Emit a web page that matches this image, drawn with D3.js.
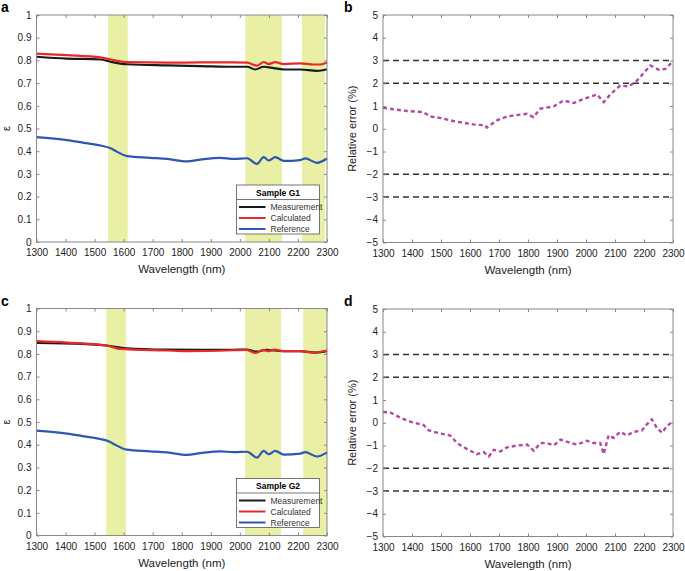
<!DOCTYPE html>
<html>
<head>
<meta charset="utf-8">
<script src="https://cdn.jsdelivr.net/npm/d3@7/dist/d3.min.js"></script>
<style>
  body { margin: 0; background: #fff; }
  svg { font-family: "Liberation Sans", Arial, sans-serif; }
</style>
</head>
<body>
<script>
// Data
const wavelengthTicks = [1300, 1400, 1500, 1600, 1700, 1800, 1900, 2000, 2100, 2200, 2300];
const epsTicks = [0, 0.1, 0.2, 0.3, 0.4, 0.5, 0.6, 0.7, 0.8, 0.9, 1];
const errTicks = [-5, -4, -3, -2, -1, 0, 1, 2, 3, 4, 5];
const errLimits = [3, 2, -2, -3];
const seriesNames = ["Measurement", "Calculated", "Reference"];
const seriesColors = ["#1a1a1a", "#e8282b", "#2f56b0"];

const bandsG1 = [[1546, 1614], [2019, 2145], [2214, 2293]];
const bandsG2 = [[1540, 1608], [2018, 2142], [2218, 2300]];

const measG1 = [[1300, 0.816], [1405, 0.808], [1520, 0.804], [1555, 0.794], [1612, 0.783], [1750, 0.778], [1864, 0.775], [1979, 0.772], [2025, 0.772], [2053, 0.760], [2082, 0.772], [2117, 0.766], [2151, 0.760], [2208, 0.760], [2266, 0.754], [2300, 0.761]];
const calcG1 = [[1300, 0.830], [1405, 0.823], [1520, 0.813], [1555, 0.804], [1612, 0.792], [1750, 0.790], [1864, 0.791], [1979, 0.791], [2025, 0.790], [2059, 0.777], [2082, 0.793], [2099, 0.784], [2122, 0.792], [2151, 0.784], [2208, 0.787], [2254, 0.782], [2277, 0.782], [2300, 0.791]];
const refG1 = [[1300, 0.462], [1405, 0.449], [1463, 0.437], [1520, 0.425], [1555, 0.413], [1578, 0.397], [1612, 0.378], [1692, 0.371], [1750, 0.366], [1818, 0.355], [1864, 0.363], [1933, 0.371], [1979, 0.366], [2025, 0.369], [2059, 0.344], [2082, 0.374], [2099, 0.359], [2122, 0.374], [2151, 0.357], [2208, 0.361], [2225, 0.368], [2266, 0.349], [2300, 0.368]];

const measG2 = [[1300, 0.849], [1460, 0.844], [1541, 0.837], [1610, 0.825], [1747, 0.819], [1862, 0.818], [1977, 0.818], [2022, 0.819], [2057, 0.810], [2091, 0.818], [2149, 0.812], [2206, 0.812], [2263, 0.806], [2300, 0.812]];
const calcG2 = [[1300, 0.856], [1405, 0.850], [1541, 0.837], [1587, 0.822], [1747, 0.815], [1816, 0.812], [1977, 0.816], [2022, 0.818], [2055, 0.804], [2080, 0.818], [2097, 0.812], [2120, 0.819], [2149, 0.812], [2206, 0.812], [2252, 0.806], [2300, 0.815]];
const refG2 = [[1300, 0.462], [1405, 0.449], [1463, 0.437], [1520, 0.425], [1550, 0.414], [1575, 0.397], [1610, 0.378], [1692, 0.371], [1750, 0.366], [1818, 0.355], [1864, 0.363], [1933, 0.371], [1979, 0.367], [2025, 0.369], [2059, 0.343], [2082, 0.373], [2099, 0.358], [2122, 0.373], [2151, 0.356], [2208, 0.361], [2225, 0.367], [2266, 0.348], [2300, 0.366]];

const errG1 = [[1300, 0.92], [1340, 0.85], [1383, 0.78], [1439, 0.73], [1463, 0.54], [1500, 0.47], [1542, 0.34], [1611, 0.19], [1652, 0.15], [1658, 0.05], [1693, 0.37], [1727, 0.54], [1796, 0.66], [1819, 0.51], [1842, 0.88], [1888, 0.98], [1923, 1.24], [1957, 1.13], [2003, 1.36], [2038, 1.51], [2061, 1.17], [2084, 1.51], [2118, 1.90], [2147, 1.86], [2176, 2.12], [2222, 2.78], [2251, 2.59], [2274, 2.63], [2300, 2.97]];
const errG2 = [[1300, 0.47], [1325, 0.45], [1360, 0.22], [1394, 0.05], [1417, -0.03], [1440, -0.10], [1457, -0.33], [1497, -0.47], [1532, -0.56], [1555, -0.89], [1590, -1.16], [1624, -1.38], [1647, -1.29], [1665, -1.48], [1682, -1.19], [1705, -1.26], [1728, -1.08], [1762, -1.00], [1797, -0.96], [1820, -1.23], [1843, -0.89], [1866, -0.90], [1889, -1.00], [1912, -0.74], [1946, -0.89], [1969, -0.96], [2003, -0.79], [2026, -0.89], [2049, -0.89], [2061, -1.38], [2078, -0.55], [2095, -0.67], [2118, -0.40], [2141, -0.56], [2164, -0.40], [2193, -0.34], [2210, -0.07], [2227, 0.15], [2244, -0.22], [2262, -0.44], [2279, -0.15], [2300, 0.07]];

const W = 685, H = 571;
const svg = d3.select("body").append("svg")
    .attr("width", W)
    .attr("height", H);

const fmtMinus = d => d < 0 ? "\u2212" + Math.abs(d) : String(d);

// frame + ticks on all four sides, MATLAB style
function frame(g, x, y, yTicks, yFmt) {
    const tick = 3;
    g.append("g")
        .attr("transform", `translate(0,${y.range()[0]})`)
        .call(d3.axisBottom(x).tickValues(wavelengthTicks).tickSize(-tick).tickPadding(7).tickFormat(d3.format("d")))
        .call(a => a.select(".domain").remove());
    g.append("g")
        .attr("transform", `translate(0,${y.range()[1]})`)
        .call(d3.axisTop(x).tickValues(wavelengthTicks).tickSize(-tick).tickFormat(""))
        .call(a => a.select(".domain").remove());
    g.append("g")
        .attr("transform", `translate(${x.range()[0]},0)`)
        .call(d3.axisLeft(y).tickValues(yTicks).tickSize(-tick).tickPadding(5).tickFormat(yFmt))
        .call(a => a.select(".domain").remove());
    g.append("g")
        .attr("transform", `translate(${x.range()[1]},0)`)
        .call(d3.axisRight(y).tickValues(yTicks).tickSize(-tick).tickFormat(""))
        .call(a => a.select(".domain").remove());
    g.selectAll(".tick line").attr("stroke", "#888");
    g.selectAll(".tick text").attr("font-size", 10).attr("fill", "#222")
        .attr("font-family", "'Liberation Sans', Arial, sans-serif");
    g.append("rect")
        .attr("x", x.range()[0]).attr("y", y.range()[1])
        .attr("width", x.range()[1] - x.range()[0])
        .attr("height", y.range()[0] - y.range()[1])
        .attr("fill", "none").attr("stroke", "#888").attr("stroke-width", 1);
    g.append("text")
        .attr("x", (x.range()[0] + x.range()[1]) / 2)
        .attr("y", y.range()[0] + 31)
        .attr("text-anchor", "middle")
        .attr("font-size", 11.5).attr("fill", "#222")
        .text("Wavelength (nm)");
}

function epsPanel(top, letter, bands, series, sample) {
    const g = svg.append("g");
    const x = d3.scaleLinear().domain([1300, 2300]).range([36.5, 327]);
    const y = d3.scaleLinear().domain([0, 1]).range([top + 227, top]);

    g.selectAll(".band").data(bands).join("rect")
        .attr("x", d => x(d[0]))
        .attr("width", d => x(d[1]) - x(d[0]))
        .attr("y", y(1)).attr("height", y(0) - y(1))
        .attr("fill", "#e9f0a6");

    const line = d3.line().x(d => x(d[0])).y(d => y(d[1])).curve(d3.curveMonotoneX);
    [2, 0, 1].forEach(i => {
        g.append("path").datum(series[i])
            .attr("d", line)
            .attr("fill", "none")
            .attr("stroke", seriesColors[i])
            .attr("stroke-width", 2.2);
    });

    frame(g, x, y, epsTicks, d => d);

    g.append("text")
        .attr("transform", `translate(10,${(y(0) + y(1)) / 2}) rotate(-90)`)
        .attr("text-anchor", "middle")
        .attr("font-size", 11).attr("fill", "#222")
        .text("\u03b5");

    g.append("text").attr("x", 1).attr("y", top - 3)
        .attr("font-size", 14).attr("font-weight", "bold").text(letter);

    // legend
    const lx = 236.5, ly = y(0) - 57, lw = 83, lh = 49;
    const leg = g.append("g").attr("transform", `translate(${lx},${ly})`);
    leg.append("rect").attr("width", lw).attr("height", lh)
        .attr("fill", "#fff").attr("stroke", "#555").attr("stroke-width", 0.8);
    leg.append("text").attr("x", lw / 2).attr("y", 10.5)
        .attr("text-anchor", "middle").attr("font-size", 8.5).attr("font-weight", "bold")
        .text(sample);
    leg.append("line").attr("x1", 0).attr("x2", lw).attr("y1", 14.5).attr("y2", 14.5)
        .attr("stroke", "#555").attr("stroke-width", 0.8);
    seriesNames.forEach((name, i) => {
        const yy = 22 + i * 11;
        leg.append("line").attr("x1", 2.5).attr("x2", 29).attr("y1", yy).attr("y2", yy)
            .attr("stroke", seriesColors[i]).attr("stroke-width", 2);
        leg.append("text").attr("x", 34).attr("y", yy + 3)
            .attr("font-size", 8.5).attr("fill", "#333").text(name);
    });
}

function errPanel(top, letter, err) {
    const g = svg.append("g");
    const x = d3.scaleLinear().domain([1300, 2300]).range([383, 673]);
    const y = d3.scaleLinear().domain([-5, 5]).range([top + 227.5, top]);

    g.selectAll(".lim").data(errLimits).join("line")
        .attr("x1", x(1300)).attr("x2", x(2300))
        .attr("y1", d => y(d)).attr("y2", d => y(d))
        .attr("stroke", "#333").attr("stroke-width", 1.4)
        .attr("stroke-dasharray", "6,4");

    g.append("path").datum(err)
        .attr("d", d3.line().x(d => x(d[0])).y(d => y(d[1])))
        .attr("fill", "none")
        .attr("stroke", "#b448a6")
        .attr("stroke-width", 2.4)
        .attr("stroke-dasharray", "4,3");

    frame(g, x, y, errTicks, fmtMinus);

    g.append("text")
        .attr("transform", `translate(356,${(y(-5) + y(5)) / 2}) rotate(-90)`)
        .attr("text-anchor", "middle")
        .attr("font-size", 11).attr("fill", "#222")
        .text("Relative error (%)");

    g.append("text").attr("x", 344).attr("y", top - 3)
        .attr("font-size", 14).attr("font-weight", "bold").text(letter);
}

epsPanel(15, "a", bandsG1, [measG1, calcG1, refG1], "Sample G1");
errPanel(15, "b", errG1);
epsPanel(308.5, "c", bandsG2, [measG2, calcG2, refG2], "Sample G2");
errPanel(309, "d", errG2);
</script>
</body>
</html>
